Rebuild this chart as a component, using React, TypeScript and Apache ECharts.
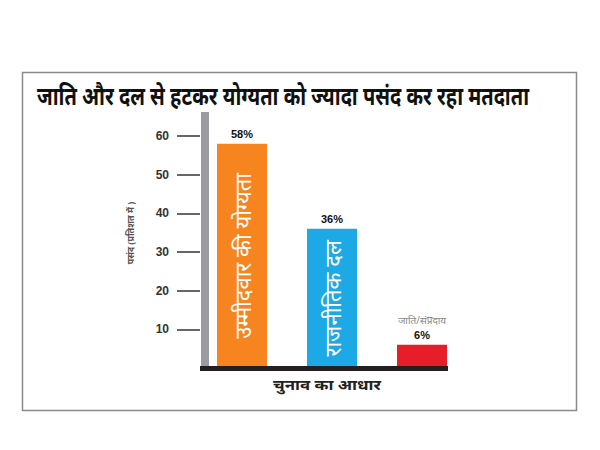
import React, { useEffect, useRef } from "react";
import * as echarts from "echarts";

const title = "जाति और दल से हटकर योग्यता को ज्यादा पसंद कर रहा मतदाता";
const categories = ["उम्मीदवार की योग्यता", "राजनीतिक दल", "जाति/संप्रदाय"];
const values = [58, 36, 6];
const barColors = ["#F6851F", "#1CA9E6", "#E61E2A"];
const yTicks = [10, 20, 30, 40, 50, 60];
const yAxisName = "पसंद (प्रतिशत में )";
const xAxisName = "चुनाव का आधार";

export default function App() {
  const ref = useRef<HTMLDivElement>(null);
  useEffect(() => {
    if (!ref.current) return;
    const chart = echarts.init(ref.current, undefined, { renderer: "svg" });
    const devFont = "'Noto Sans', 'DejaVu Sans', sans-serif";
    chart.setOption({
      animation: false,
      backgroundColor: "#ffffff",
      grid: { left: 197, width: 270, top: 136, bottom: 82 },
      xAxis: {
        type: "category",
        data: categories,
        axisLine: { show: false },
        axisTick: { show: false },
        axisLabel: { show: false },
      },
      yAxis: {
        type: "value",
        min: 0,
        max: 60,
        interval: 10,
        offset: -3,
        splitLine: { show: false },
        axisLine: { show: false },
        axisTick: {
          show: true,
          length: 23,
          customValues: yTicks,
          lineStyle: { color: "#333", width: 1.5 },
        },
        axisLabel: {
          customValues: yTicks,
          margin: 31,
          fontSize: 12,
          fontWeight: "bold",
          fontFamily: "Arial, 'Liberation Sans', sans-serif",
          color: "#333",
        },
      },
      series: [
        {
          type: "bar",
          barWidth: 50,
          data: values.map((v, i) => ({
            value: v,
            itemStyle: { color: barColors[i] },
            label:
              i < 2
                ? {
                    show: true,
                    position: "inside",
                    rotate: 90,
                    formatter: categories[i],
                    color: "#fff",
                    fontSize: 22,
                    fontFamily: devFont,
                  }
                : { show: false },
          })),
          z: 2,
        },
        {
          type: "bar",
          barWidth: 50,
          barGap: "-100%",
          itemStyle: { color: "rgba(0,0,0,0)" },
          data: values.map((v, i) => ({
            value: v,
            label: {
              show: true,
              position: "top",
              distance: 3,
              formatter:
                i === 2
                  ? "{n|" + categories[i] + "}\n{v|" + v + "%}"
                  : "{v|" + v + "%}",
              rich: {
                n: {
                  fontSize: 10,
                  color: "#888",
                  fontFamily: devFont,
                  lineHeight: 18,
                },
                v: {
                  fontSize: 11,
                  fontWeight: "bold",
                  color: "#111",
                  fontFamily: "Arial, 'Liberation Sans', sans-serif",
                  lineHeight: 13,
                },
              },
            },
          })),
          z: 3,
        },
      ],
      graphic: [
        {
          type: "rect",
          shape: { x: 22.5, y: 72.5, width: 554, height: 338 },
          style: { fill: "none", stroke: "#8a8a8a", lineWidth: 1.5 },
          z: 0,
        },
        {
          type: "text",
          x: 283,
          y: 96,
          scaleY: 1.25,
          style: {
            text: title,
            textAlign: "center",
            textVerticalAlign: "middle",
            fontSize: 20,
            fontWeight: "bold",
            fontFamily: devFont,
            fill: "#111",
          },
        },
        {
          type: "rect",
          shape: { x: 201, y: 112, width: 8, height: 256 },
          style: { fill: "#9C9CA0" },
          z: 1,
        },
        {
          type: "rect",
          shape: { x: 200, y: 366, width: 248, height: 5 },
          style: { fill: "#231F20" },
          z: 10,
        },
        {
          type: "text",
          x: 130,
          y: 233,
          rotation: Math.PI / 2,
          style: {
            text: yAxisName,
            textAlign: "center",
            textVerticalAlign: "middle",
            fontSize: 9,
            fontWeight: "bold",
            fontFamily: devFont,
            fill: "#555",
          },
        },
        {
          type: "text",
          x: 327,
          y: 385,
          scaleX: 1.2,
          style: {
            text: xAxisName,
            textAlign: "center",
            textVerticalAlign: "middle",
            fontSize: 14,
            fontWeight: "bold",
            fontFamily: devFont,
            fill: "#222",
          },
        },
      ],
    });
    return () => chart.dispose();
  }, []);
  return (
    <div
      ref={ref}
      style={{ position: "fixed", left: 0, top: 0, width: 600, height: 450 }}
    />
  );
}
